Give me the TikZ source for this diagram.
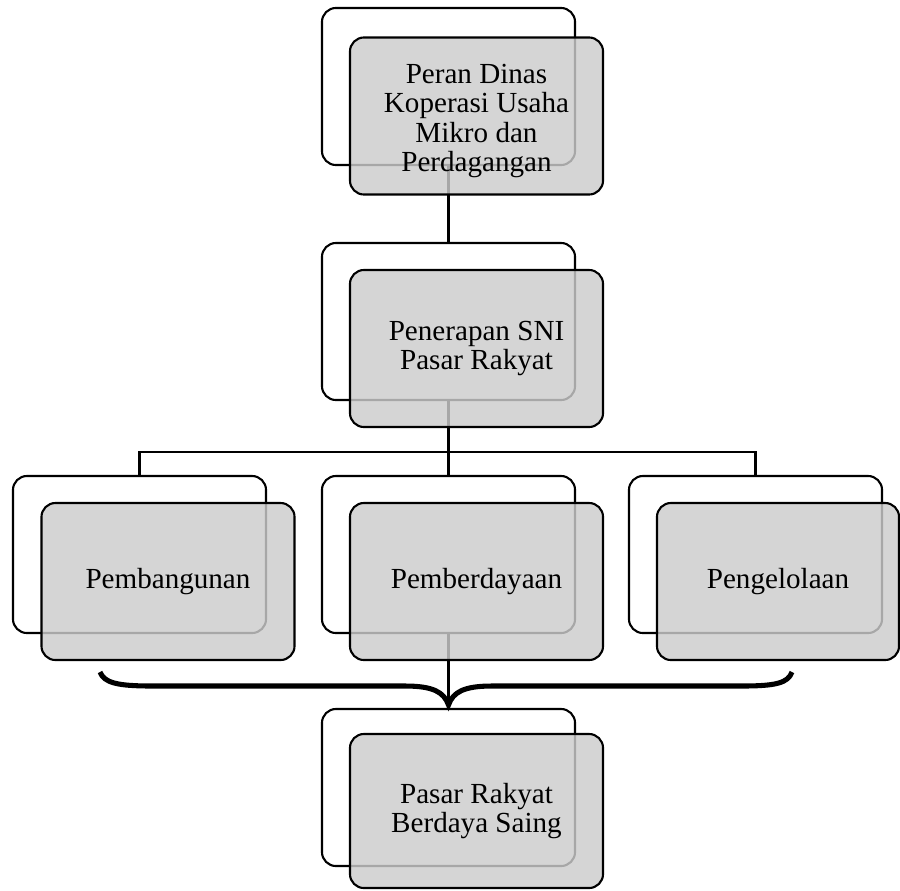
\documentclass[tikz,border=0pt]{standalone}
\usepackage{fontspec}
\setmainfont{Liberation Serif}
\usetikzlibrary{calc}

\begin{document}
\begin{tikzpicture}[x=0.025cm,y=-0.025cm,
  back/.style={draw,line width=1.5pt,rounded corners=0.35cm,fill=white,
    minimum width=6.325cm,minimum height=3.925cm,inner sep=0pt},
  label text/.style={align=center,font=\fontsize{20.7}{21}\selectfont},
  front/.style={back,label text,fill=black!20,fill opacity=0.82,text opacity=1},
  link/.style={line width=1.5pt}]
\useasboundingbox (0,0) rectangle (900,890);
% back boxes
\node[back] (peranB) at (448.5,86.5) {};
\node[back] (sniB) at (448.5,321.5) {};
\node[back] (bangunB) at (139.5,554.5) {};
\node[back] (dayaB) at (448.5,554.5) {};
\node[back] (kelolaB) at (755.5,554.5) {};
\node[back] (saingB) at (448.5,787.5) {};
% connectors
\coordinate (split) at (448.5,452);
\coordinate (tip) at (448.5,705);
\coordinate (braceL) at (100,672);
\coordinate (braceR) at (792,672);
\draw[link] (peranB.south) -- (sniB.north);
\draw[link] (sniB.south) -- (split);
\draw[link] (split) -| (bangunB.north);
\draw[link] (split) -| (kelolaB.north);
\draw[link] (split) -- (dayaB.north);
\draw[link] (dayaB.south) -- (tip);
\draw[line width=3.6pt] (braceL) .. controls (104,683) and (118,686) .. (152,686)
  -- (405,686) .. controls (433,686) and (444,692) .. (tip)
  .. controls (453,692) and (464,686) .. (492,686)
  -- (742,686) .. controls (776,686) and (788,683) .. (braceR);
% front boxes
\node[front] (peran) at (476.5,116) {};
\node[label text] (peranT) at ($(peran)+(0,5)$) {Peran Dinas\\Koperasi Usaha\\Mikro dan\\Perdagangan};
\node[front] (sni) at (476.5,348.5) {Penerapan SNI\\Pasar Rakyat};
\node[front] (bangun) at (168,581.5) {Pembangunan};
\node[front] (daya) at (476.5,581.5) {Pemberdayaan};
\node[front,minimum width=6.05cm] (kelola) at (778,581.5) {Pengelolaan};
\node[front,minimum height=3.85cm] (saing) at (476.5,811) {Pasar Rakyat\\Berdaya Saing};
\end{tikzpicture}
\end{document}
